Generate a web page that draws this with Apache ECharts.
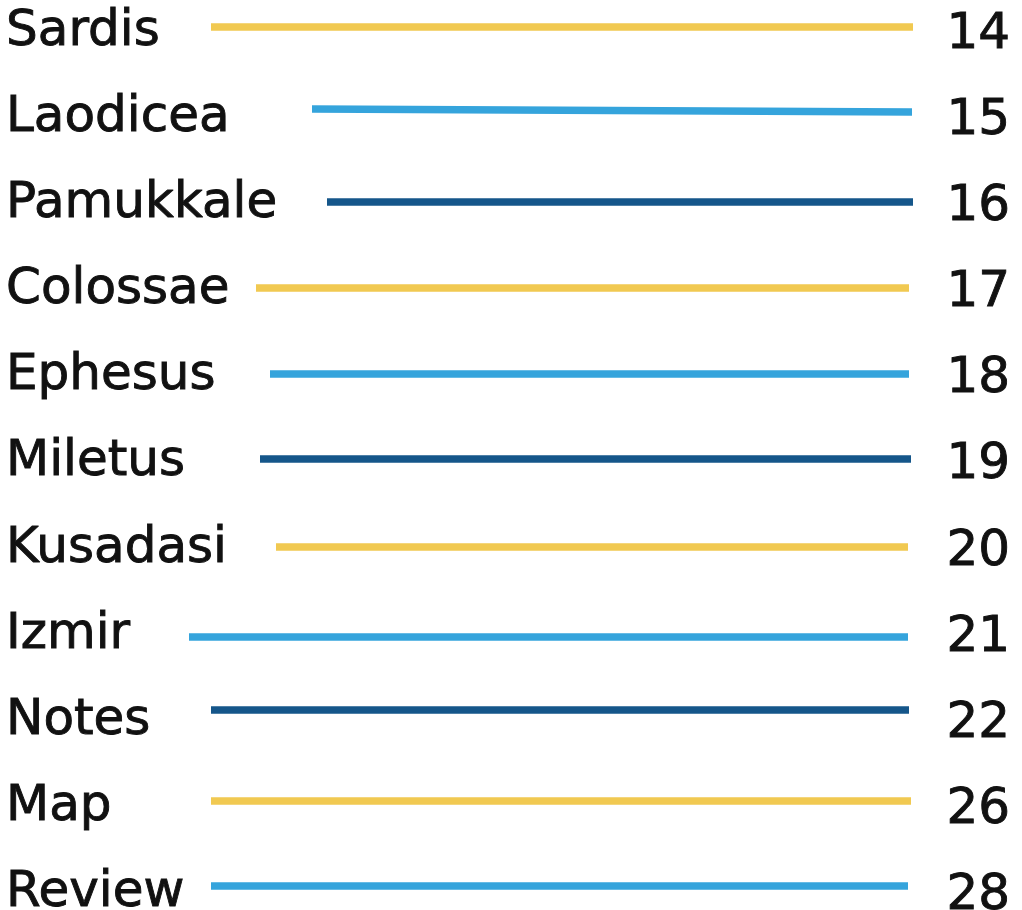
<!DOCTYPE html>
<html>
<head>
<meta charset="utf-8">
<script src="https://cdn.jsdelivr.net/npm/echarts@6/dist/echarts.min.js"></script>
<style>
html,body{margin:0;padding:0;background:#fff;overflow:hidden;width:1022px;height:910px;}
#c{position:absolute;left:0;top:-14px;width:1022px;height:957px;}
</style>
</head>
<body>
<div id="c"></div>
<script>
// Table-of-contents entries
const sections = ['Sardis','Laodicea','Pamukkale','Colossae','Ephesus','Miletus','Kusadasi','Izmir','Notes','Map','Review'];
const pages = ['14','15','16','17','18','19','20','21','22','26','28'];
// Leader line extents (x in page-width units 0..1022, y in row units)
const lineStartX = [211,312,327,256,270,260,276,189,211,211,211];
const lineEndX   = [913,912,913,909,909,911,908,908,909,911,908];
const lineStartY = [-0.03,0.93,2.01,3.0,4.007,4.994,6.016,7.061,7.904,8.966,9.954];
const lineEndY   = [-0.03,0.964,2.01,3.0,4.007,4.994,6.016,7.061,7.904,8.966,9.954];
const palette = ['#f1c951','#35a4dc','#15568a'];

const chart = echarts.init(document.getElementById('c'), null, {renderer:'canvas'});
const lineData = sections.map((s,i)=>({
  name:s,
  coords:[[lineStartX[i], lineStartY[i]],[lineEndX[i], lineEndY[i]]],
  lineStyle:{color:palette[i%3]}
}));
const labelFont = {fontFamily:'DejaVu Sans', fontSize:50, color:'#111111',
  textBorderColor:'#111111', textBorderWidth:0.9};
const hidden = {axisLine:{show:false},axisTick:{show:false},splitLine:{show:false}};
chart.setOption({
  animation:false,
  backgroundColor:'#ffffff',
  grid:[
    {left:0,right:0,top:0,bottom:10},
    {left:0,right:0,top:3,bottom:7},
    {left:0,right:0,top:6,bottom:4}
  ],
  xAxis:[
    {type:'value',min:0,max:1022,show:false,gridIndex:0},
    {type:'value',min:0,max:1022,show:false,gridIndex:1},
    {type:'value',min:0,max:1022,show:false,gridIndex:2}
  ],
  yAxis:[
    Object.assign({type:'category',data:sections,inverse:true,position:'left',gridIndex:1,
     axisLabel:Object.assign({align:'left',margin:-6},labelFont)},hidden),
    Object.assign({type:'category',data:pages,inverse:true,position:'right',gridIndex:2,
     axisLabel:Object.assign({align:'right',margin:-12},labelFont)},hidden),
    {type:'value',min:-0.5,max:10.5,inverse:true,show:false,gridIndex:0}
  ],
  series:[{
    type:'lines',coordinateSystem:'cartesian2d',xAxisIndex:0,yAxisIndex:2,
    polyline:false,silent:true,
    lineStyle:{width:7.5,opacity:1,cap:'butt'},
    data:lineData
  }]
});
</script>
</body>
</html>
